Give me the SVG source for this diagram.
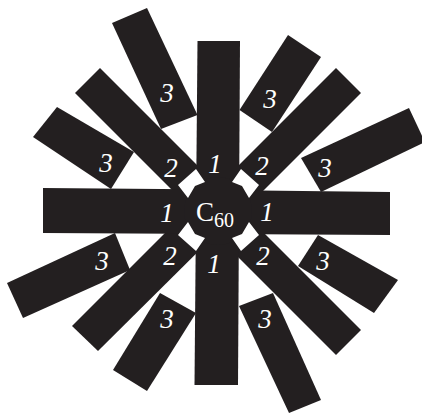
<svg xmlns="http://www.w3.org/2000/svg" width="422" height="415" viewBox="0 0 422 415">
<style>
.b{fill:#231f20;stroke:none}
.w{fill:#ffffff;stroke:none}
.t{fill:#ffffff;font-family:"Liberation Serif","Times New Roman",serif;font-style:italic;font-size:27px;text-anchor:middle}
.c{fill:#ffffff;font-family:"Liberation Serif","Times New Roman",serif;font-size:27px}
</style>
<rect width="422" height="415" fill="#ffffff"/>
<g id="bar2-nw"><polygon class="b" points="100,68 230,198 205,223 75,93"/><text class="t" x="171" y="177">2</text></g>
<g id="bar2-ne"><polygon class="b" points="336,68 361,93 230,224 205,199"/><text class="t" x="262" y="175">2</text></g>
<g id="bar2-sw"><polygon class="b" points="72,326 200,198 226,224 98,351"/><text class="t" x="170" y="265">2</text></g>
<g id="bar2-se"><polygon class="b" points="361,330 336,355 204,223 230,199"/><text class="t" x="263" y="265">2</text></g>
<g id="bar1-top"><polygon class="b" points="197.5,41 240,41 239,212 196,212"/><text class="t" x="215" y="173">1</text></g>
<g id="bar1-bottom"><polygon class="b" points="196,210 239,210 238,385 194.5,385"/><text class="t" x="214" y="273">1</text></g>
<g id="bar1-left"><polygon class="b" points="43,188 220,189.5 220,234 43,233"/><text class="t" x="167" y="222">1</text></g>
<g id="bar1-right"><polygon class="b" points="215,190 390,192 390,235 215,234"/><text class="t" x="267" y="221">1</text></g>
<g id="bar3-nnw"><polygon class="b" points="112,23 147,8 197.5,115 161,129"/><text class="t" x="167" y="102">3</text></g>
<g id="bar3-wnw"><polygon class="b" points="33,137 57,107 134,152 111,189"/><text class="t" x="106" y="172">3</text></g>
<g id="bar3-nne"><polygon class="b" points="288,35 321,57 272,132 239.5,110"/><text class="t" x="270" y="108">3</text></g>
<g id="bar3-ene"><polygon class="b" points="301,158 409,108 425,142 321,192"/><text class="t" x="325" y="177">3</text></g>
<g id="bar3-wsw"><polygon class="b" points="7,283 115,233 130,270 23,318"/><text class="t" x="102" y="270">3</text></g>
<g id="bar3-ssw"><polygon class="b" points="113,370 160,293 196,313 147,391"/><text class="t" x="167" y="328">3</text></g>
<g id="bar3-ese"><polygon class="b" points="298,266 318,235 398,280 374,313"/><text class="t" x="323" y="270">3</text></g>
<g id="bar3-sse"><polygon class="b" points="239,306 273,293 321,400 289,413"/><text class="t" x="265" y="328">3</text></g>
<g id="c60">
<circle class="b" cx="218" cy="211" r="34"/>
<polygon class="w" points="196,169 205,182 195,186 188,198 178,185"/>
<polygon class="w" points="241,169 232,182 242,186 249,198 259,185"/>
<polygon class="w" points="196,251 205,238 195,234 188,222 178,235"/>
<polygon class="w" points="241,251 232,238 242,234 249,222 259,235"/>
<text class="c" x="196" y="221">C<tspan font-size="20" dy="6">60</tspan></text>
</g>
</svg>
